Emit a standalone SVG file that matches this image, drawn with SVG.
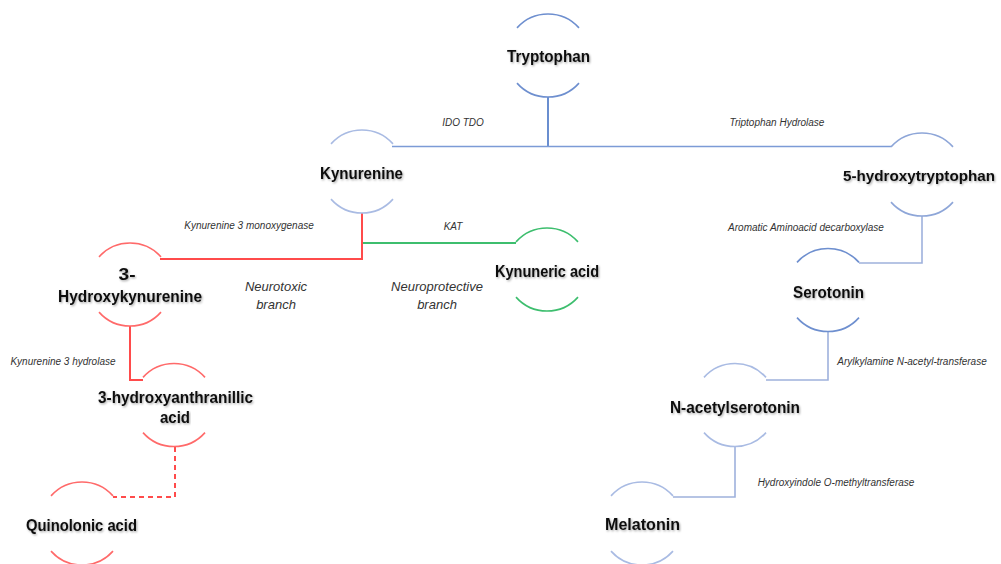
<svg xmlns="http://www.w3.org/2000/svg" width="1001" height="564" viewBox="0 0 1001 564">
<defs>
<filter id="sh" x="-3%" y="-25%" width="106%" height="150%">
<feDropShadow dx="1" dy="1.2" stdDeviation="0.9" flood-color="#000" flood-opacity="0.35"/>
</filter>
</defs>
<style>
.n{font-family:"Liberation Sans",Arial,sans-serif;font-weight:bold;font-size:17px;fill:#111;text-anchor:middle;filter:url(#sh)}
.e{font-family:"Liberation Sans",Arial,sans-serif;font-style:italic;font-size:10px;fill:#333;text-anchor:middle}
.b{font-family:"Liberation Sans",Arial,sans-serif;font-style:italic;font-size:13px;fill:#333;text-anchor:middle}
.arc{fill:none;stroke-width:1.6}
.blue1{stroke:#6E8FCF}
.blue2{stroke:#A9BBE3}
.blue3{stroke:#8EA6D8}
.red{stroke:#FF6A6A}
.green{stroke:#3DBE6E}
.c{fill:none;stroke-width:1.6}
.cb{stroke:#9EB1DC}
.cr{stroke:#FF4B4B;stroke-width:2}
.cg{stroke:#3DBE6E;stroke-width:2}
</style>
<rect width="1001" height="564" fill="#fff"/>

<g id="connectors">
<path class="c" d="M548 97V146.5" stroke="#4472C4" stroke-width="2.5"/>
<path class="c" d="M392 146.5H891" stroke="#7C9BD6"/>
<path class="c cr" d="M362 213V259H160"/>
<path class="c cg" d="M363 243H516"/>
<path class="c cr" d="M130 326V380H143"/>
<path class="c cr" d="M175 447V497H113" stroke-dasharray="5,4"/>
<path class="c cb" d="M922 216V263H859"/>
<path class="c cb" d="M828 331V380H766"/>
<path class="c cb" d="M735 447V497H673"/>
</g>

<g id="edge-labels">
<text class="e" x="463" y="126">IDO TDO</text>
<text class="e" x="777" y="126">Triptophan Hydrolase</text>
<text class="e" x="249" y="229">Kynurenine 3 monoxygenase</text>
<text class="e" x="453" y="230">KAT</text>
<text class="e" x="806" y="231">Aromatic Aminoacid decarboxylase</text>
<text class="e" x="63" y="365">Kynurenine 3 hydrolase</text>
<text class="e" x="912" y="365">Arylkylamine N-acetyl-transferase</text>
<text class="e" x="836" y="486">Hydroxyindole O-methyltransferase</text>
<text class="b" x="276" y="291">Neurotoxic</text>
<text class="b" x="276" y="309">branch</text>
<text class="b" x="437" y="291">Neuroprotective</text>
<text class="b" x="437" y="309">branch</text>
</g>

<g id="tryptophan">
<path class="arc blue1" d="M517 27.9A41.5 41.5 0 0 1 579 27.9M517 83.1A41.5 41.5 0 0 0 579 83.1"/>
<text class="n" x="548.5" y="62" textLength="83" lengthAdjust="spacingAndGlyphs">Tryptophan</text>
</g>

<g id="kynurenine">
<path class="arc blue2" d="M331 143.9A41.5 41.5 0 0 1 393 143.9M331 199.1A41.5 41.5 0 0 0 393 199.1"/>
<text class="n" x="361.5" y="179" textLength="83" lengthAdjust="spacingAndGlyphs">Kynurenine</text>
</g>

<g id="hydroxytryptophan">
<path class="arc blue3" d="M891 146.9A41.5 41.5 0 0 1 953 146.9M891 202.1A41.5 41.5 0 0 0 953 202.1"/>
<text class="n" x="919" y="181" style="font-size:15.5px" textLength="152" lengthAdjust="spacingAndGlyphs">5-hydroxytryptophan</text>
</g>

<g id="kynuneric-acid">
<path class="arc green" d="M516 241.9A41.5 41.5 0 0 1 578 241.9M516 297.1A41.5 41.5 0 0 0 578 297.1"/>
<text class="n" x="547" y="277" textLength="104" lengthAdjust="spacingAndGlyphs">Kynuneric acid</text>
</g>

<g id="hydroxykynurenine">
<path class="arc red" d="M99 256.9A41.5 41.5 0 0 1 161 256.9M99 312.1A41.5 41.5 0 0 0 161 312.1"/>
<text class="n" x="127" y="280" textLength="17" lengthAdjust="spacingAndGlyphs">3-</text>
<text class="n" x="130" y="302" textLength="144" lengthAdjust="spacingAndGlyphs">Hydroxykynurenine</text>
</g>

<g id="serotonin">
<path class="arc blue1" d="M797 262.4A41.5 41.5 0 0 1 859 262.4M797 317.6A41.5 41.5 0 0 0 859 317.6"/>
<text class="n" x="828.5" y="298" textLength="71" lengthAdjust="spacingAndGlyphs">Serotonin</text>
</g>

<g id="hydroxyanthranillic-acid">
<path class="arc red" d="M143 377.4A41.5 41.5 0 0 1 205 377.4M143 432.6A41.5 41.5 0 0 0 205 432.6"/>
<text class="n" x="175.5" y="403" textLength="155" lengthAdjust="spacingAndGlyphs">3-hydroxyanthranillic</text>
<text class="n" x="175" y="423" textLength="30" lengthAdjust="spacingAndGlyphs">acid</text>
</g>

<g id="n-acetylserotonin">
<path class="arc blue2" d="M704 377.4A41.5 41.5 0 0 1 766 377.4M704 432.6A41.5 41.5 0 0 0 766 432.6"/>
<text class="n" x="735" y="413" textLength="130" lengthAdjust="spacingAndGlyphs">N-acetylserotonin</text>
</g>

<g id="quinolonic-acid">
<path class="arc red" d="M51 495.9A41.5 41.5 0 0 1 113 495.9M51 551.1A41.5 41.5 0 0 0 113 551.1"/>
<text class="n" x="81.5" y="531" textLength="111" lengthAdjust="spacingAndGlyphs">Quinolonic acid</text>
</g>

<g id="melatonin">
<path class="arc blue2" d="M611 495.9A41.5 41.5 0 0 1 673 495.9M611 551.1A41.5 41.5 0 0 0 673 551.1"/>
<text class="n" x="642.5" y="530" textLength="75" lengthAdjust="spacingAndGlyphs">Melatonin</text>
</g>
</svg>
